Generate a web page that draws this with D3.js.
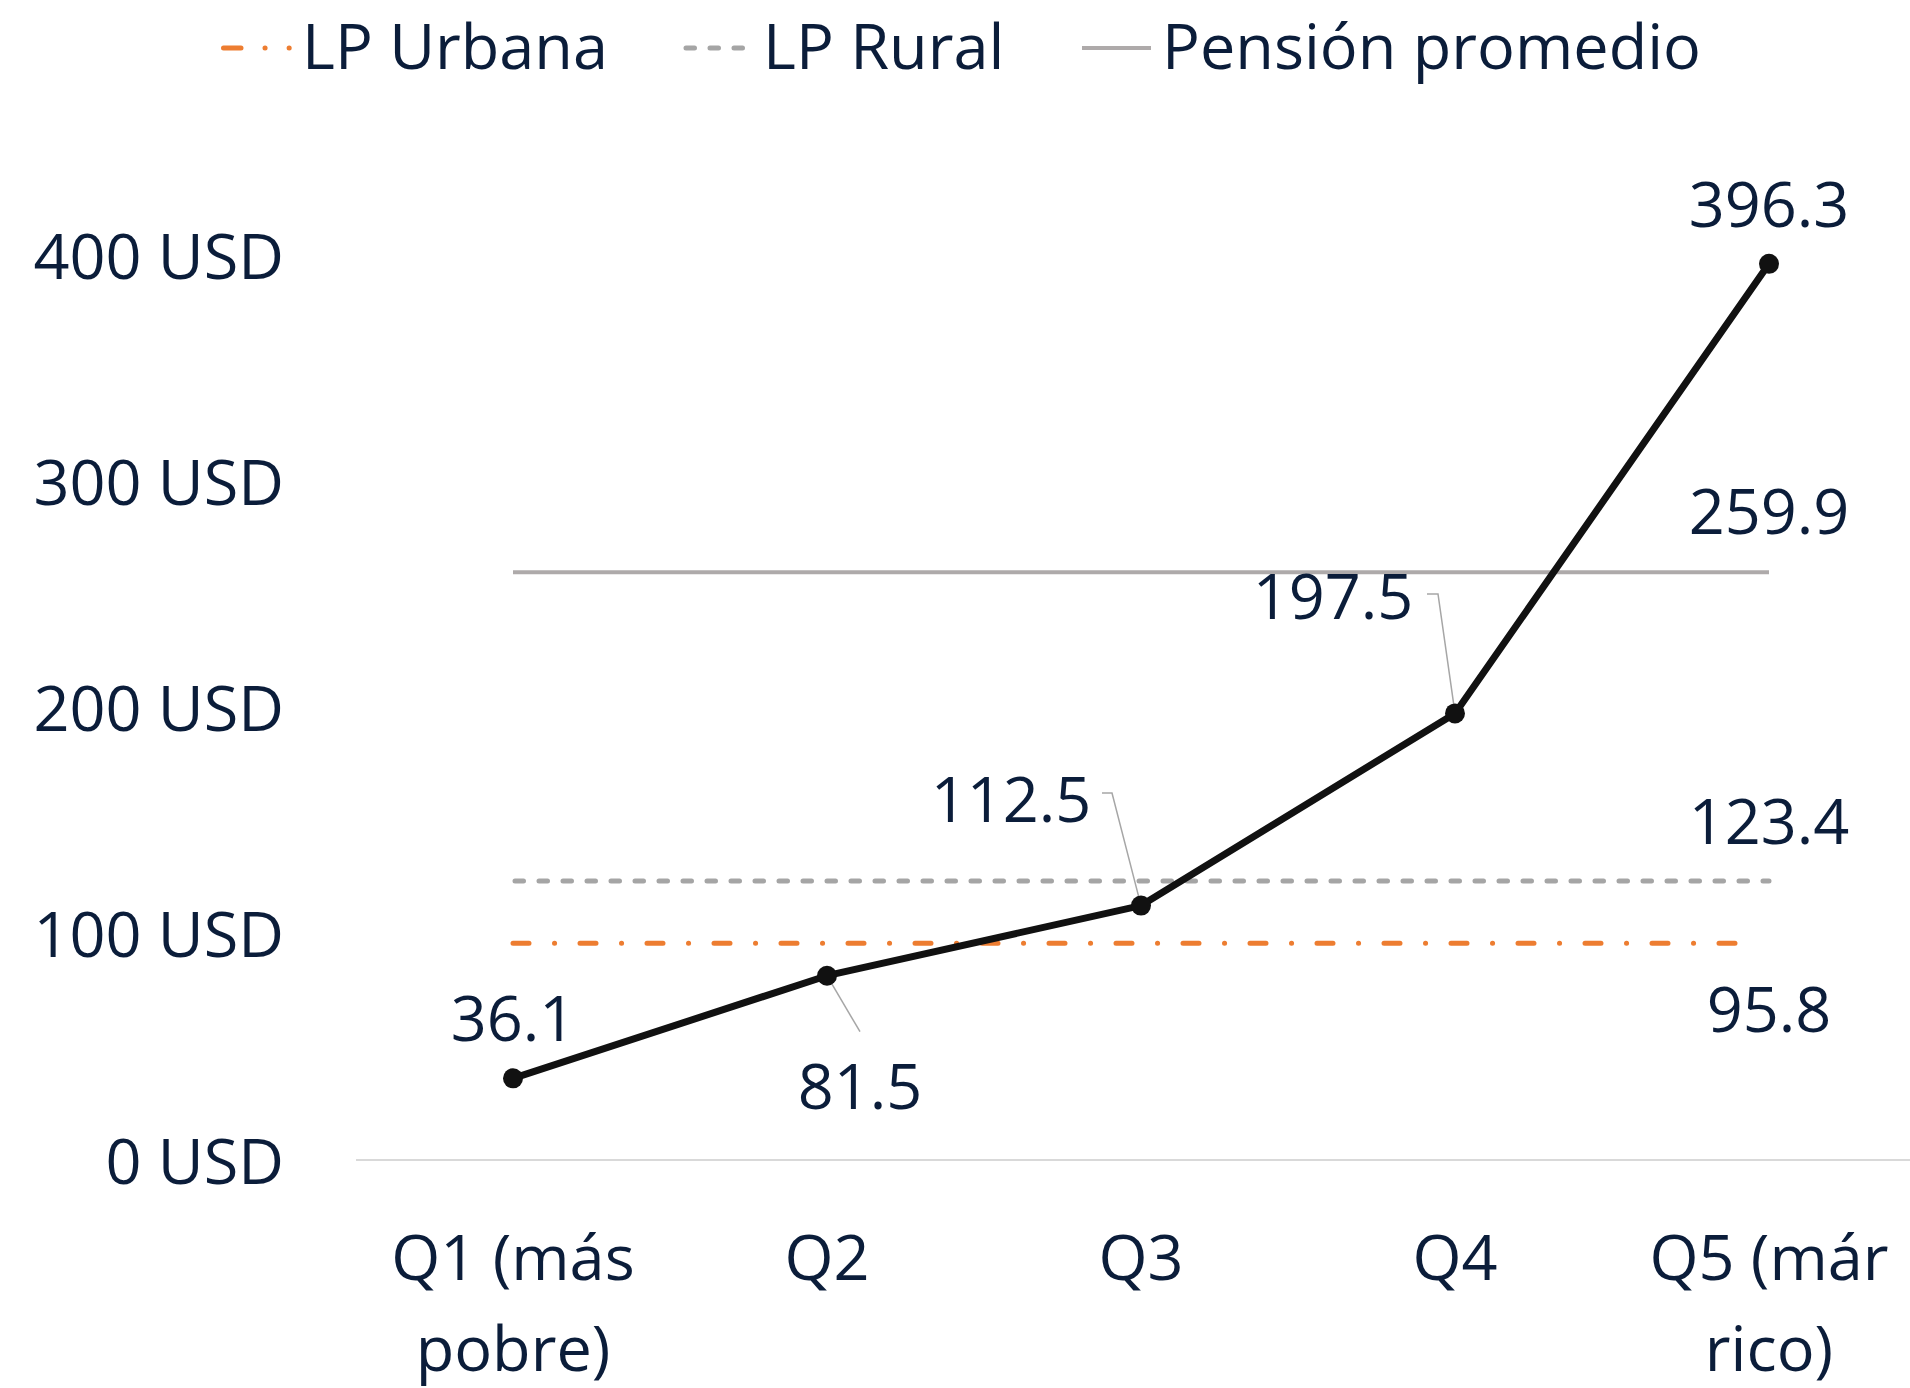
<!DOCTYPE html>
<html>
<head>
<meta charset="utf-8">
<script src="https://cdn.jsdelivr.net/npm/d3@7"></script>
<style>
  body { margin: 0; background: #fff; }
  svg { display: block; font-family: "Open Sans", sans-serif; }
</style>
</head>
<body>
<div id="chart"></div>
<script>
// quintiles and pension per quintile
const quintiles = ['Q1 (más pobre)', 'Q2', 'Q3', 'Q4', 'Q5 (már rico)'];
const quintile_lines = [['Q1 (más', 'pobre)'], ['Q2'], ['Q3'], ['Q4'], ['Q5 (már', 'rico)']];
const pension = [36.1, 81.5, 112.5, 197.5, 396.3];

// reference lines
const lp_urbana = 95.8;
const lp_rural = 123.4;
const pension_promedio = 259.9;

const y_ticks = [0, 100, 200, 300, 400];
const legend_names = ['LP Urbana', 'LP Rural', 'Pensión promedio'];

const width = 1910, height = 1388;
const text_color = '#0b1d3a';
const font_size = 63;

const svg = d3.select('#chart').append('svg')
  .attr('width', width)
  .attr('height', height);

const y = d3.scaleLinear().domain([0, 400]).range([1160, 255.5]);
const x = d3.scaleBand().domain(quintiles).range([356, 1926]).padding(0);
const cx = q => x(q) + x.bandwidth() / 2;

// baseline
svg.append('line')
  .attr('x1', 356).attr('x2', width)
  .attr('y1', y(0)).attr('y2', y(0))
  .attr('stroke', '#d9d9d9').attr('stroke-width', 2);

// y axis labels
const yAxis = svg.append('g')
  .attr('transform', 'translate(284,0)')
  .call(d3.axisLeft(y).tickValues(y_ticks).tickFormat(d => d + ' USD').tickSize(0).tickPadding(0));
yAxis.select('.domain').remove();
yAxis.selectAll('text')
  .attr('dy', null)
  .attr('y', 23)
  .attr('fill', text_color)
  .style('font-size', font_size + 'px')
  .style('font-family', '"Open Sans", sans-serif');

// x labels
quintiles.forEach((q, i) => {
  const t = svg.append('text')
    .attr('text-anchor', 'middle')
    .attr('fill', text_color)
    .style('font-size', font_size + 'px');
  quintile_lines[i].forEach((ln, j) => {
    t.append('tspan').attr('x', cx(q)).attr('y', 1280 + j * 91).text(ln);
  });
});

const x_first = cx(quintiles[0]), x_last = cx(quintiles[4]);

// reference lines
svg.append('line')
  .attr('x1', x_first).attr('x2', x_last)
  .attr('y1', y(pension_promedio)).attr('y2', y(pension_promedio))
  .attr('stroke', '#aeaaaa').attr('stroke-width', 4);

svg.append('line')
  .attr('x1', x_first + 2).attr('x2', x_last)
  .attr('y1', y(lp_rural)).attr('y2', y(lp_rural))
  .attr('stroke', '#a5a5a5').attr('stroke-width', 5)
  .attr('stroke-linecap', 'round')
  .attr('stroke-dasharray', '8.5,15.5');

svg.append('line')
  .attr('x1', x_first).attr('x2', x_last - 20)
  .attr('y1', y(lp_urbana)).attr('y2', y(lp_urbana))
  .attr('stroke', '#ed7d31').attr('stroke-width', 5)
  .attr('stroke-linecap', 'round')
  .attr('stroke-dasharray', '16,25.5,0.1,25.4');

// leader lines (label -> point)
const leader = '#a6a6a6';
svg.append('line')
  .attr('x1', cx('Q2')).attr('y1', y(81.5))
  .attr('x2', cx('Q2') + 33).attr('y2', y(81.5) + 56)
  .attr('stroke', leader).attr('stroke-width', 1.5);
svg.append('polyline')
  .attr('points', [[1102, 793], [1112, 793], [cx('Q3'), y(112.5)]].join(' '))
  .attr('fill', 'none').attr('stroke', leader).attr('stroke-width', 1.5);
svg.append('polyline')
  .attr('points', [[1427, 594], [1438, 594], [cx('Q4'), y(197.5)]].join(' '))
  .attr('fill', 'none').attr('stroke', leader).attr('stroke-width', 1.5);

// main line
const line = d3.line().x((d, i) => cx(quintiles[i])).y(d => y(d));
svg.append('path')
  .datum(pension)
  .attr('d', line)
  .attr('fill', 'none')
  .attr('stroke', '#111111')
  .attr('stroke-width', 7)
  .attr('stroke-linejoin', 'round');

svg.selectAll('circle.pt')
  .data(pension)
  .join('circle')
  .attr('class', 'pt')
  .attr('cx', (d, i) => cx(quintiles[i]))
  .attr('cy', d => y(d))
  .attr('r', 10)
  .attr('fill', '#111111');

// data labels: offsets from the point (dx, baseline dy)
const label_offsets = [[0, -37], [33, 133], [-130, -84], [-122, -94], [0, -37]];
svg.selectAll('text.val')
  .data(pension)
  .join('text')
  .attr('class', 'val')
  .attr('x', (d, i) => cx(quintiles[i]) + label_offsets[i][0])
  .attr('y', (d, i) => y(d) + label_offsets[i][1])
  .attr('text-anchor', 'middle')
  .attr('fill', text_color)
  .style('font-size', font_size + 'px')
  .text(d => d.toFixed(1));

// reference line labels
[[pension_promedio, -38], [lp_rural, -37], [lp_urbana, 89]].forEach(([v, dy]) => {
  svg.append('text')
    .attr('x', x_last)
    .attr('y', y(v) + dy)
    .attr('text-anchor', 'middle')
    .attr('fill', text_color)
    .style('font-size', font_size + 'px')
    .text(v.toFixed(1));
});

// legend
const legend = svg.append('g');
legend.append('line')
  .attr('x1', 223.5).attr('x2', 290).attr('y1', 48).attr('y2', 48)
  .attr('stroke', '#ed7d31').attr('stroke-width', 5)
  .attr('stroke-linecap', 'round')
  .attr('stroke-dasharray', '17.5,24,0.1,24,0.1,100');
legend.append('line')
  .attr('x1', 686).attr('x2', 747).attr('y1', 48).attr('y2', 48)
  .attr('stroke', '#a5a5a5').attr('stroke-width', 5)
  .attr('stroke-linecap', 'round')
  .attr('stroke-dasharray', '8.5,15.5');
legend.append('line')
  .attr('x1', 1082).attr('x2', 1151).attr('y1', 48).attr('y2', 48)
  .attr('stroke', '#aeaaaa').attr('stroke-width', 4);

const legend_x = [302, 763, 1162];
legend_names.forEach((n, i) => {
  legend.append('text')
    .attr('x', legend_x[i]).attr('y', 69)
    .attr('fill', text_color)
    .style('font-size', font_size + 'px')
    .text(n);
});
</script>
</body>
</html>
